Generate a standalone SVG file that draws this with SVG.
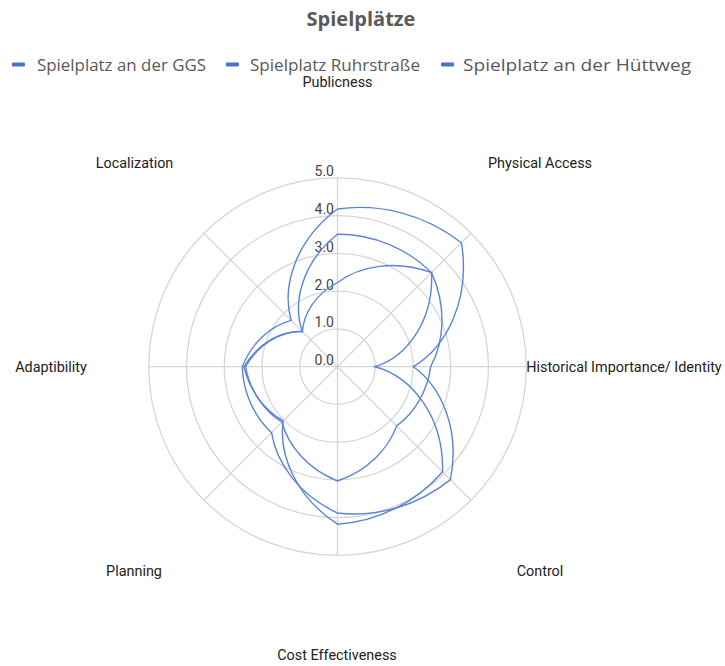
<svg xmlns="http://www.w3.org/2000/svg" width="725" height="666" viewBox="0 0 725 666">
<style>
.grid{fill:none;stroke:#d6d6d6;stroke-width:1.3}
.series{fill:none;stroke:#5b84d6;stroke-width:1.4;stroke-linejoin:miter}
.tick{font-family:Roboto,"Liberation Sans",sans-serif;font-size:14px;fill:#444;text-anchor:end}
.cat{font-family:Roboto,"Liberation Sans",sans-serif;font-size:14.4px;fill:#222;text-anchor:middle}
.legend{font-family:"Open Sans","Liberation Sans",sans-serif;font-size:16.5px;fill:#595959}
.title{font-family:"Open Sans","Liberation Sans",sans-serif;font-size:20px;font-weight:bold;fill:#5a5a5a;text-anchor:middle}
.key{fill:#4673c8}
</style>
<rect width="725" height="666" fill="#ffffff"/>
<g id="title"><text class="title" x="361" y="26">Spielplätze</text></g>
<g id="legend">
<rect class="key" x="12" y="62.5" width="13" height="4" rx="1"/>
<text class="legend" x="37" y="70.5" textLength="169" lengthAdjust="spacingAndGlyphs">Spielplatz an der GGS</text>
<rect class="key" x="226" y="62.5" width="13" height="4" rx="1"/>
<text class="legend" x="250" y="70.5" textLength="170" lengthAdjust="spacingAndGlyphs">Spielplatz Ruhrstraße</text>
<rect class="key" x="441" y="62.5" width="13" height="4" rx="1"/>
<text class="legend" x="463" y="70.5" textLength="228" lengthAdjust="spacingAndGlyphs">Spielplatz an der Hüttweg</text>
</g>
<g id="grid">
<circle class="grid" cx="337.5" cy="366.7" r="37.75"/>
<circle class="grid" cx="337.5" cy="366.7" r="75.5"/>
<circle class="grid" cx="337.5" cy="366.7" r="113.25"/>
<circle class="grid" cx="337.5" cy="366.7" r="151"/>
<circle class="grid" cx="337.5" cy="366.7" r="188.75"/>
<path class="grid" d="M337.5 366.7V177.95M337.5 366.7L470.97 233.23M337.5 366.7H526.25M337.5 366.7L470.97 500.17M337.5 366.7V555.45M337.5 366.7L204.03 500.17M337.5 366.7H148.75M337.5 366.7L204.03 233.23"/>
</g>
<g id="ticks">
<text class="tick" x="334" y="365">0.0</text>
<text class="tick" x="334" y="327.3">1.0</text>
<text class="tick" x="334" y="289.5">2.0</text>
<text class="tick" x="334" y="251.8">3.0</text>
<text class="tick" x="334" y="214">4.0</text>
<text class="tick" x="334" y="176.3">5.0</text>
</g>
<g id="connectors">
<path id="series-ggs" class="series" d="M 337.5 209 C 379.32 203.06 424.39 214.07 461.46 242.74 C 470.57 299.37 446.9 346.6 413.3 366.7 C 441.63 386.8 460.34 429.65 450.43 479.63 C 417.28 506.37 376.3 517.53 337.5 513 C 298.7 495.1 276.37 462.82 271.53 432.67 C 253.58 415.63 242.94 391.95 242.3 366.7 C 252.3 341.45 271.74 325.54 291.11 320.31 C 281.42 286.02 295.68 240.1 337.5 209 Z"/>
<path id="series-ruhr" class="series" d="M 337.5 234.2 C 372.64 234.03 406.49 247.83 431.55 272.65 C 433.69 320.39 407.25 356.75 375 366.7 C 412.52 376.65 443.92 417.38 442.58 471.78 C 416.84 501.78 379.27 521.19 337.5 524.2 C 295.73 496.91 278.34 454.62 283.26 420.94 C 264.87 410.57 249.67 391.5 244 366.7 C 258.82 341.9 282.65 330.45 302.43 331.63 C 291.93 302.53 302.36 262.2 337.5 234.2 Z"/>
<path id="series-huett" class="series" d="M 337.5 282.5 C 359.83 266.02 394.96 259.36 431.55 272.65 C 446.99 307.09 444.14 341.98 430.7 366.7 C 427.49 391.42 414.65 412.45 396.68 425.88 C 388.29 448.88 367.81 470.67 337.5 481 C 307.19 468.91 288.16 445.48 281.99 422.21 C 264.04 410.71 250.06 391.1 245.5 366.7 C 259.82 342.3 283 330.8 302.43 331.63 C 303.47 314.07 315.17 294.18 337.5 282.5 Z"/>
</g>
<g id="node-publicness"><text class="cat" x="337.5" y="87">Publicness</text></g>
<g id="node-physical-access"><text class="cat" x="540" y="168">Physical Access</text></g>
<g id="node-historical"><text class="cat" x="624" y="372">Historical Importance/ Identity</text></g>
<g id="node-control"><text class="cat" x="540" y="576">Control</text></g>
<g id="node-cost"><text class="cat" x="337" y="660">Cost Effectiveness</text></g>
<g id="node-planning"><text class="cat" x="134" y="576">Planning</text></g>
<g id="node-adaptibility"><text class="cat" x="51" y="372">Adaptibility</text></g>
<g id="node-localization"><text class="cat" x="134.5" y="168">Localization</text></g>
</svg>
